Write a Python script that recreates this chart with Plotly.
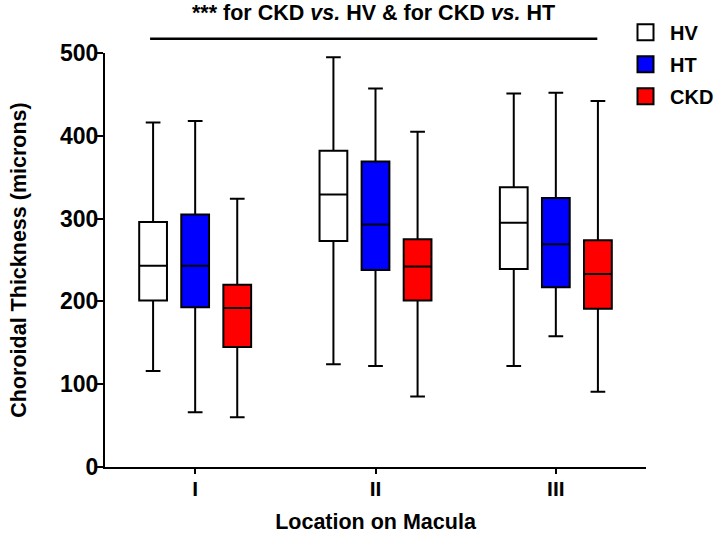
import plotly.graph_objects as go

locations = ["I", "II", "III"]
groups = ["HV", "HT", "CKD"]
colors = ["#FFFFFF", "#0000FF", "#FF0000"]

upper = {"HV": [416, 495, 451], "HT": [418, 457, 452], "CKD": [324, 405, 442]}
q3 = {"HV": [296, 382, 338], "HT": [305, 369, 325], "CKD": [220, 275, 274]}
median = {"HV": [243, 329, 295], "HT": [243, 293, 269], "CKD": [192, 242, 233]}
q1 = {"HV": [201, 273, 239], "HT": [193, 238, 217], "CKD": [145, 201, 191]}
lower = {"HV": [116, 124, 122], "HT": [66, 122, 158], "CKD": [60, 85, 91]}

FONT = "Liberation Sans, Arial, sans-serif"

fig = go.Figure()
for g, c in zip(groups, colors):
    fig.add_trace(go.Box(
        name=g, x=locations,
        q1=q1[g], median=median[g], q3=q3[g],
        lowerfence=lower[g], upperfence=upper[g],
        fillcolor=c, line=dict(color="black", width=2),
        whiskerwidth=0.53, boxpoints=False, showlegend=False,
        hoverinfo="y",
    ))
# legend proxies
for g, c in zip(groups, colors):
    fig.add_trace(go.Scatter(
        x=[None], y=[None], mode="markers", name=g, legendgroup=g,
        marker=dict(symbol="square", size=16, color=c,
                    line=dict(color="black", width=2)),
    ))

fig.update_layout(
    width=725, height=542,
    paper_bgcolor="white", plot_bgcolor="white",
    margin=dict(l=105, r=79, t=53, b=75, autoexpand=False),
    boxmode="group", boxgap=0.3, boxgroupgap=0.34,
    font=dict(family=FONT, size=21, color="black", weight="bold"),
    legend=dict(x=0.9538, y=1.097, xanchor="left", yanchor="top",
                font=dict(size=20, weight="bold"), itemsizing="trace",
                bgcolor="rgba(0,0,0,0)", itemwidth=39, tracegroupgap=3),
    xaxis=dict(
        range=[-0.5, 2.5], showline=True, linecolor="black", linewidth=2,
        ticks="outside", ticklen=5, tickwidth=2, tickcolor="black",
        showgrid=False, zeroline=False, ticklabelstandoff=-3,
        tickfont=dict(size=21, weight="bold"),
        title=dict(text="Location on Macula", font=dict(size=21.5, weight="bold"), standoff=15),
    ),
    yaxis=dict(
        range=[0, 500], dtick=100, showline=True, linecolor="black", linewidth=2,
        ticks="outside", ticklen=7, tickwidth=2, tickcolor="black",
        showgrid=False, zeroline=False, ticklabelstandoff=-7,
        tickfont=dict(size=23, weight="bold"),
        title=dict(text="Choroidal Thickness (microns)", font=dict(size=21.5, weight="bold"), standoff=28),
    ),
    shapes=[dict(type="line", xref="x", yref="paper", x0=-0.25, x1=2.23,
                 y0=1.0345, y1=1.0345, line=dict(color="black", width=2.5))],
    annotations=[dict(text="*** for CKD <i>vs.</i> HV & for CKD <i>vs.</i> HT",
                      xref="x", yref="paper", x=0.99, y=1.097,
                      xanchor="center", yanchor="middle", showarrow=False,
                      font=dict(size=21.5, weight="bold"))],
)

fig.write_html(
    "out.html",
    config={"displayModeBar": False},
    post_script="document.body.style.margin='0';document.body.style.padding='0';",
)
